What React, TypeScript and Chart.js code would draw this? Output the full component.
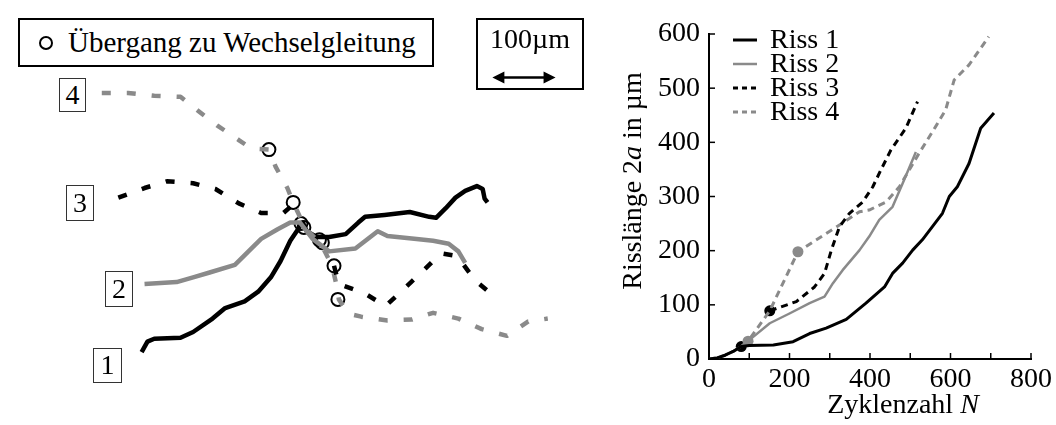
import React, { useEffect, useRef } from 'react';
import { Chart, registerables } from 'chart.js';

Chart.register(...registerables);

const FONT = "'Liberation Serif', 'Times New Roman', serif";
const GRAY = '#8a8a8a';

// ---------- right chart data: crack length 2a (µm) vs cycles N ----------
const seriesLabels = ['Riss 1', 'Riss 2', 'Riss 3', 'Riss 4'];
const riss1N = [0, 20, 40, 60, 80, 100, 160, 209, 250, 291, 341, 390, 436, 456, 481, 506, 530, 580, 597, 617, 646, 675, 708];
const riss1A = [0, 2, 7, 14, 23, 25, 26, 32, 47, 57, 73, 103, 133, 158, 177, 201, 220, 269, 300, 318, 361, 426, 454];
const riss2N = [0, 20, 40, 60, 80, 97, 151, 200, 250, 287, 308, 332, 374, 398, 423, 456, 481, 514];
const riss2A = [0, 2, 7, 14, 23, 33, 66, 84, 103, 115, 140, 164, 201, 226, 257, 281, 324, 382];
const riss3N = [151, 217, 262, 287, 304, 324, 349, 382, 407, 427, 452, 489, 518];
const riss3A = [89, 106, 133, 158, 201, 244, 269, 290, 318, 349, 386, 426, 475];
const riss4N = [0, 20, 40, 60, 80, 97, 151, 221, 267, 332, 374, 398, 440, 473, 522, 563, 588, 609, 646, 695];
const riss4A = [0, 2, 7, 14, 23, 33, 89, 198, 220, 251, 272, 275, 290, 318, 380, 429, 460, 515, 543, 595];
const markerN = [80, 97, 151, 221];
const markerA = [23, 33, 89, 198];
const xTickMarks = [0, 100, 200, 300, 400, 500, 600, 700, 800];
const yTickMarks = [0, 100, 200, 300, 400, 500, 600];

// ---------- left panel data: crack paths in the micrograph (image units) ----------
const path1X = [137, 143, 150, 177, 190, 210, 223, 243, 257, 270, 280, 290, 298, 303, 307, 317, 330, 347, 360, 367, 387, 413, 433, 440, 450, 460, 470, 482, 488, 490, 493];
const path1Y = [358, 347, 344, 343, 337, 323, 312, 305, 295, 280, 263, 242, 230, 223, 232, 238, 238, 235, 223, 217, 215, 212, 217, 218, 208, 197, 190, 185, 188, 198, 202];
const path2X = [140, 173, 190, 207, 233, 247, 260, 277, 290, 300, 313, 330, 357, 380, 390, 420, 437, 453, 463, 470];
const path2Y = [287, 285, 280, 275, 267, 253, 240, 230, 223, 223, 240, 253, 250, 232, 237, 240, 242, 245, 253, 265];
const path3aX = [113, 140, 163, 190, 213, 237, 260, 283, 292];
const path3aY = [197, 187, 180, 182, 188, 203, 213, 213, 205];
const path3bX = [335, 340, 367, 388, 407, 427, 445, 462, 480, 500];
const path3bY = [268, 287, 297, 310, 292, 273, 255, 258, 283, 300];
const path4X = [96, 123, 150, 177, 197, 215, 237, 250, 268, 275, 287, 293, 305, 322, 333, 338, 340, 350, 363, 390, 415, 437, 463, 487, 513, 535, 555];
const path4Y = [88, 88, 91, 92, 108, 122, 137, 146, 147, 165, 187, 202, 228, 246, 268, 290, 303, 318, 321, 325, 324, 317, 323, 334, 341, 326, 323];
const transitionX = [268, 293, 301, 304, 320, 323, 335, 339];
const transitionY = [147, 202, 224, 228, 241, 244, 268, 303];
const scaleBarX = [498, 563];
const scaleBarY = 72;

const pts = (xs: number[], ys: number[]) => xs.map((x, i) => ({ x, y: ys[i] }));

const seriesStyle = [
  { color: '#000', width: 3, dash: [] as number[] },
  { color: GRAY, width: 2.5, dash: [] as number[] },
  { color: '#000', width: 3, dash: [7, 5] },
  { color: GRAY, width: 3, dash: [7, 5] },
];

export default function App() {
  const leftRef = useRef<HTMLCanvasElement | null>(null);
  const rightRef = useRef<HTMLCanvasElement | null>(null);

  useEffect(() => {
    const lineDs = (data: any, color: string, width: number, dash: number[]) => ({
      data,
      showLine: true,
      borderColor: color,
      backgroundColor: color,
      borderWidth: width,
      borderDash: dash,
      pointRadius: 0,
      tension: 0,
      borderCapStyle: 'butt' as const,
      borderJoinStyle: 'round' as const,
    });

    // ---------- left chart (micrograph crack paths) ----------
    const arrowPlugin = {
      id: 'scaleArrow',
      afterDraw(chart: any) {
        const { ctx, scales } = chart;
        const x0 = scales.x.getPixelForValue(scaleBarX[0]);
        const x1 = scales.x.getPixelForValue(scaleBarX[1]);
        const y = scales.y.getPixelForValue(scaleBarY);
        ctx.save();
        ctx.strokeStyle = '#000';
        ctx.fillStyle = '#000';
        ctx.lineWidth = 2.5;
        ctx.beginPath();
        ctx.moveTo(x0 + 8, y);
        ctx.lineTo(x1 - 8, y);
        ctx.stroke();
        ctx.beginPath();
        ctx.moveTo(x0, y);
        ctx.lineTo(x0 + 12, y - 6);
        ctx.lineTo(x0 + 12, y + 6);
        ctx.closePath();
        ctx.fill();
        ctx.beginPath();
        ctx.moveTo(x1, y);
        ctx.lineTo(x1 - 12, y - 6);
        ctx.lineTo(x1 - 12, y + 6);
        ctx.closePath();
        ctx.fill();
        ctx.restore();
      },
    };

    const left = new Chart(leftRef.current as HTMLCanvasElement, {
      type: 'scatter',
      data: {
        datasets: [
          lineDs(pts(path3aX, path3aY), '#000', 4.5, [9, 16]),
          lineDs(pts(path3bX, path3bY), '#000', 4.5, [9, 16]),
          lineDs(pts(path4X, path4Y), GRAY, 4.5, [9, 16]),
          lineDs(pts(path2X, path2Y), GRAY, 4.5, []),
          lineDs(pts(path1X, path1Y), '#000', 4.5, []),
          {
            data: pts(transitionX, transitionY),
            showLine: false,
            pointRadius: 6.5,
            pointStyle: 'circle',
            backgroundColor: 'rgba(0,0,0,0)',
            borderColor: '#000',
            borderWidth: 2,
          },
        ],
      },
      options: {
        animation: false,
        responsive: true,
        maintainAspectRatio: false,
        layout: { padding: 0 },
        plugins: { legend: { display: false }, tooltip: { enabled: false } },
        events: [],
        scales: {
          x: { type: 'linear', min: 0, max: 600, display: false },
          y: { type: 'linear', min: 0, max: 425, reverse: true, display: false },
        },
      },
      plugins: [arrowPlugin],
    } as any);

    // ---------- right chart ----------
    const decorPlugin = {
      id: 'decor',
      afterDraw(chart: any) {
        const { ctx, scales } = chart;
        const xs = scales.x;
        const ys = scales.y;
        ctx.save();
        // inner tick marks
        ctx.strokeStyle = '#000';
        ctx.lineWidth = 1.5;
        ctx.setLineDash([]);
        for (const v of xTickMarks) {
          const px = xs.getPixelForValue(v);
          ctx.beginPath();
          ctx.moveTo(px, ys.bottom);
          ctx.lineTo(px, ys.bottom - 6);
          ctx.stroke();
        }
        for (const v of yTickMarks) {
          const py = ys.getPixelForValue(v);
          ctx.beginPath();
          ctx.moveTo(xs.left, py);
          ctx.lineTo(xs.left + 6, py);
          ctx.stroke();
        }
        // legend
        ctx.font = `28px ${FONT}`;
        ctx.fillStyle = '#000';
        ctx.textBaseline = 'middle';
        ctx.textAlign = 'left';
        const lx = xs.left + 24;
        seriesLabels.forEach((lab, i) => {
          const y = 40 + i * 24;
          const st = seriesStyle[i];
          ctx.strokeStyle = st.color;
          ctx.lineWidth = st.width;
          ctx.setLineDash(st.dash.length ? [5, 4] : []);
          ctx.beginPath();
          ctx.moveTo(lx, y);
          ctx.lineTo(lx + 24, y);
          ctx.stroke();
          ctx.setLineDash([]);
          ctx.fillStyle = '#000';
          ctx.fillText(lab, lx + 37, y + 1);
        });
        // x title
        const parts = (segs: { t: string; it: boolean }[]) =>
          segs.map((s) => {
            ctx.font = `${s.it ? 'italic ' : ''}28px ${FONT}`;
            return { ...s, w: ctx.measureText(s.t).width };
          });
        const xt = parts([
          { t: 'Zyklenzahl ', it: false },
          { t: 'N', it: true },
        ]);
        const xw = xt.reduce((a, s) => a + s.w, 0);
        let cx = 303 - xw / 2;
        ctx.textBaseline = 'alphabetic';
        for (const s of xt) {
          ctx.font = `${s.it ? 'italic ' : ''}28px ${FONT}`;
          ctx.fillText(s.t, cx, 413);
          cx += s.w;
        }
        // y title
        const yt = parts([
          { t: 'Risslänge 2', it: false },
          { t: 'a', it: true },
          { t: ' in µm', it: false },
        ]);
        const yw = yt.reduce((a, s) => a + s.w, 0);
        ctx.translate(41, 181);
        ctx.rotate(-Math.PI / 2);
        let cy = -yw / 2;
        for (const s of yt) {
          ctx.font = `${s.it ? 'italic ' : ''}28px ${FONT}`;
          ctx.fillText(s.t, cy, 0);
          cy += s.w;
        }
        ctx.restore();
      },
    };

    const seriesData = [
      pts(riss1N, riss1A),
      pts(riss2N, riss2A),
      pts(riss3N, riss3A),
      pts(riss4N, riss4A),
    ];

    const right = new Chart(rightRef.current as HTMLCanvasElement, {
      type: 'scatter',
      data: {
        datasets: [
          ...seriesData.map((d, i) => ({
            label: seriesLabels[i],
            ...lineDs(d, seriesStyle[i].color, seriesStyle[i].width, seriesStyle[i].dash),
          })),
          {
            label: 'markers',
            data: pts(markerN, markerA),
            showLine: false,
            pointRadius: 5.5,
            pointStyle: 'circle',
            backgroundColor: ['#000', GRAY, '#000', GRAY],
            borderColor: ['#000', GRAY, '#000', GRAY],
            borderWidth: 0,
          },
        ],
      },
      options: {
        animation: false,
        responsive: true,
        maintainAspectRatio: false,
        layout: { padding: { top: 34, right: 24, left: 0, bottom: 0 } },
        plugins: { legend: { display: false }, tooltip: { enabled: false } },
        events: [],
        scales: {
          x: {
            type: 'linear',
            min: 0,
            max: 800,
            grid: { display: false, drawTicks: false },
            border: { display: true, color: '#000', width: 2 },
            ticks: {
              stepSize: 200,
              color: '#000',
              font: { family: FONT, size: 28 },
              padding: 4,
              maxRotation: 0,
              autoSkip: false,
            },
            afterFit: (s: any) => {
              s.height = 66;
            },
          },
          y: {
            type: 'linear',
            min: 0,
            max: 600,
            grid: { display: false, drawTicks: false },
            border: { display: true, color: '#000', width: 2 },
            ticks: {
              stepSize: 100,
              color: '#000',
              font: { family: FONT, size: 28 },
              padding: 9,
            },
            afterFit: (s: any) => {
              s.width = 109;
            },
          },
        },
      },
      plugins: [decorPlugin],
    } as any);

    return () => {
      left.destroy();
      right.destroy();
    };
  }, []);

  const labelBox = (txt: string, l: number, t: number, w: number, h: number) => (
    <div
      key={txt}
      style={{
        position: 'absolute',
        left: l,
        top: t,
        width: w,
        height: h,
        boxSizing: 'border-box',
        border: '1.5px solid #333',
        background: '#fff',
        fontSize: 28,
        lineHeight: `${h - 3}px`,
        textAlign: 'center',
      }}
    >
      {txt}
    </div>
  );

  return (
    <div
      style={{
        position: 'fixed',
        left: 0,
        top: 0,
        width: 1056,
        height: 425,
        background: '#fff',
        overflow: 'hidden',
        fontFamily: FONT,
        color: '#000',
      }}
    >
      <div style={{ position: 'absolute', left: 0, top: 0, width: 600, height: 425 }}>
        <canvas ref={leftRef} />
      </div>
      <div
        style={{
          position: 'absolute',
          left: 18,
          top: 18,
          width: 416,
          height: 49,
          boxSizing: 'border-box',
          border: '2px solid #000',
          background: '#fff',
          display: 'flex',
          alignItems: 'center',
          fontSize: 29,
        }}
      >
        <div
          style={{
            marginLeft: 19,
            width: 14,
            height: 14,
            boxSizing: 'border-box',
            border: '2.5px solid #000',
            borderRadius: '50%',
          }}
        />
        <span style={{ marginLeft: 15 }}>Übergang zu Wechselgleitung</span>
      </div>
      <div
        style={{
          position: 'absolute',
          left: 476,
          top: 18,
          width: 108,
          height: 72,
          boxSizing: 'border-box',
          border: '2px solid #000',
          fontSize: 28,
          textAlign: 'center',
          lineHeight: '38px',
        }}
      >
        100µm
      </div>
      {labelBox('4', 59, 78, 27, 34)}
      {labelBox('3', 66, 185, 28, 36)}
      {labelBox('2', 105, 271, 28, 36)}
      {labelBox('1', 93, 348, 29, 35)}
      <div style={{ position: 'absolute', left: 600, top: 0, width: 456, height: 425 }}>
        <canvas ref={rightRef} />
      </div>
    </div>
  );
}
